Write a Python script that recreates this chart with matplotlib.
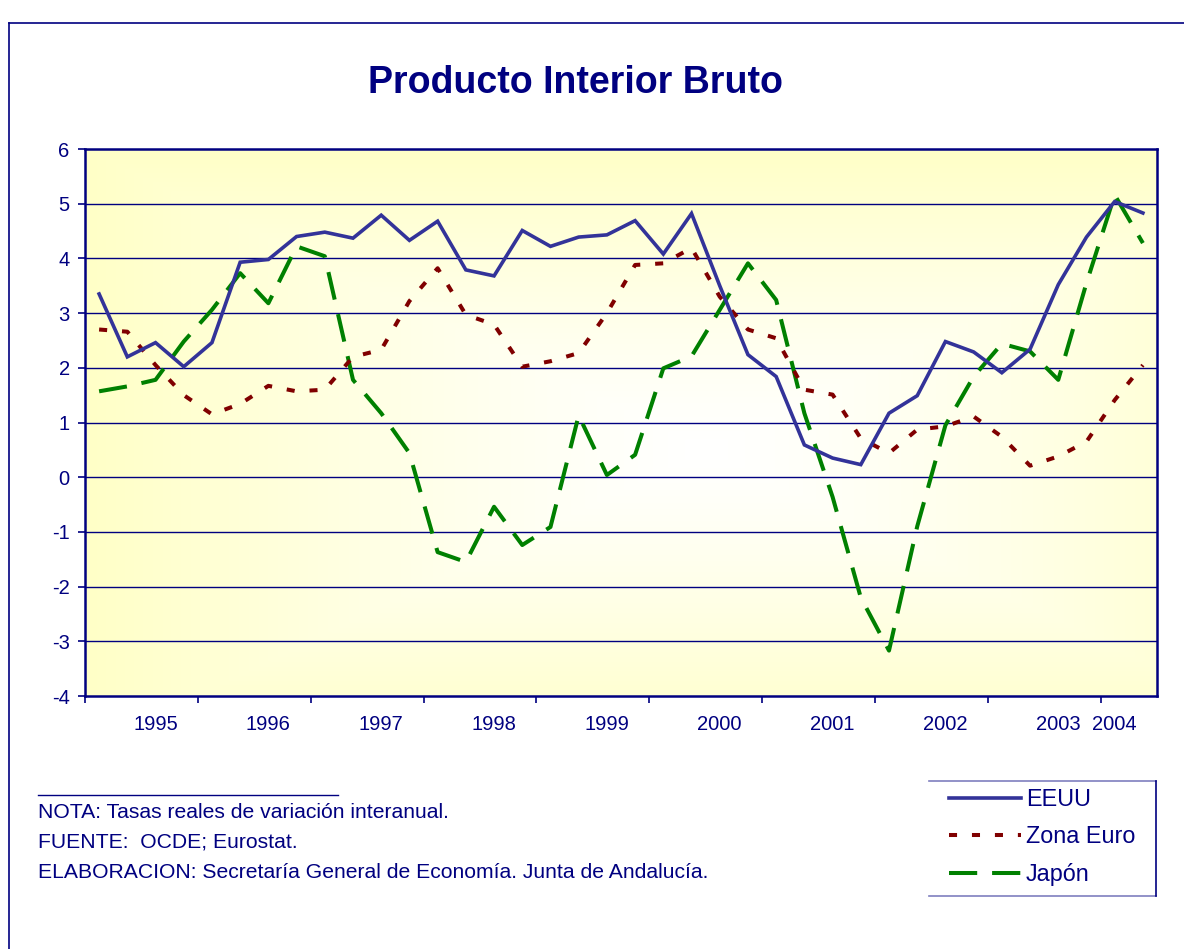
import numpy as np
import matplotlib
matplotlib.use("Agg")
import matplotlib.pyplot as plt
from matplotlib.lines import Line2D

plt.rcParams['font.family'] = ['Liberation Sans', 'DejaVu Sans']
plt.rcParams['axes.unicode_minus'] = False

NAVY = '#000080'

# quarterly data, 1995 Q1 .. 2004 Q2
eeuu = [3.35, 2.20, 2.46, 2.02, 2.46, 3.93, 3.98, 4.40, 4.48, 4.37, 4.79, 4.33,
        4.68, 3.79, 3.68, 4.51, 4.22, 4.39, 4.43, 4.69, 4.08, 4.82, 3.50, 2.24,
        1.84, 0.59, 0.35, 0.23, 1.17, 1.49, 2.48, 2.29, 1.91, 2.34, 3.52, 4.39,
        5.04, 4.83]
zona_euro = [2.70, 2.66, 2.05, 1.50, 1.15, 1.34, 1.67, 1.57, 1.60, 2.20, 2.33, 3.22,
             3.82, 2.97, 2.79, 2.02, 2.12, 2.27, 3.00, 3.88, 3.91, 4.19, 3.30, 2.70,
             2.54, 1.60, 1.51, 0.71, 0.44, 0.87, 0.93, 1.11, 0.74, 0.21, 0.38, 0.65,
             1.41, 2.05]
japon = [1.57, 1.66, 1.78, 2.48, 3.06, 3.73, 3.18, 4.22, 4.04, 1.78, 1.17, 0.44,
         -1.37, -1.55, -0.54, -1.24, -0.91, 1.13, 0.04, 0.41, 1.99, 2.21, 3.06, 3.91,
         3.24, 1.17, -0.36, -2.20, -3.17, -0.90, 0.95, 1.84, 2.44, 2.30, 1.78, 3.55,
         5.16, 4.28]
year_pos = [2, 6, 10, 14, 18, 22, 26, 30, 34, 36]
year_labels = ['1995', '1996', '1997', '1998', '1999', '2000', '2001', '2002', '2003', '2004']

n = len(eeuu)
x = np.arange(n)

fig = plt.figure(figsize=(11.84, 9.49), dpi=100)
ax = fig.add_axes([85/1184, 1-696/949, 1072/1184, 547/949])

# yellow-to-white "from centre" gradient
u, v = np.meshgrid(np.linspace(0, 1, 300), np.linspace(0, 1, 300))
t = np.clip(np.maximum(np.abs(u-0.58)/0.58, np.abs(v-0.45)/0.55), 0, 1) ** 1.2
yellow = np.array([1.0, 1.0, 0.78])
img = (1-t)[..., None]*np.array([1.0, 1.0, 1.0]) + t[..., None]*yellow
ax.imshow(img, extent=(0, 1, 0, 1), transform=ax.transAxes, aspect='auto',
          origin='lower', zorder=0)

for yv in range(-3, 6):
    ax.axhline(yv, color=NAVY, lw=1.0, zorder=1)

l1, = ax.plot(x, eeuu, color='#333399', lw=2.6, zorder=4, label='EEUU',
              solid_joinstyle='miter')
l2, = ax.plot(x, zona_euro, color='#800000', lw=2.9, zorder=3, label='Zona Euro',
              linestyle=(0, (2, 3.7)))
l3, = ax.plot(x, japon, color='#008000', lw=2.9, zorder=2, label='Japón',
              linestyle=(0, (7, 3.7)))

ax.set_xlim(-0.5, n-0.5)
ax.set_ylim(-4, 6)
ax.set_yticks(range(-4, 7))
ax.set_xticks(np.arange(-0.5, n, 4))
ax.set_xticklabels([])
ax.set_xticks(year_pos, minor=True)
ax.set_xticklabels(year_labels, minor=True)
ax.tick_params(axis='x', which='major', length=5, width=1.2, color=NAVY, direction='out')
ax.tick_params(axis='x', which='minor', length=0, pad=14, labelsize=14.5, labelcolor=NAVY)
ax.tick_params(axis='y', length=5, width=1.2, color=NAVY, labelsize=14.5,
               labelcolor=NAVY, pad=6)
for s in ax.spines.values():
    s.set_color(NAVY)
    s.set_linewidth(1.8)

fig.text(576/1184, 1-83/949, 'Producto Interior Bruto', ha='center', va='center',
         fontsize=27, fontweight='bold', color=NAVY)

# outer border
fig.add_artist(Line2D([9/1184, 9/1184], [0, 1-23/949], color=NAVY, lw=1.2))
fig.add_artist(Line2D([9/1184, 1], [1-23/949, 1-23/949], color=NAVY, lw=1.2))

# notes
fig.add_artist(Line2D([38/1184, 338/1184], [1-795/949, 1-795/949], color=NAVY, lw=1.0))
notes = ['NOTA: Tasas reales de variación interanual.',
         'FUENTE:  OCDE; Eurostat.',
         'ELABORACION: Secretaría General de Economía. Junta de Andalucía.']
for i, s in enumerate(notes):
    fig.text(38/1184, 1-(812+30.5*i)/949, s, ha='left', va='center',
             fontsize=15.2, color=NAVY)

# legend
leg = fig.legend([l1, l2, l3], ['EEUU', 'Zona Euro', 'Japón'], loc='upper left',
                 bbox_to_anchor=(942/1184, 1-781/949), frameon=False, fontsize=16.8,
                 handlelength=3.1, handletextpad=0.2, labelspacing=0.62,
                 borderaxespad=0, borderpad=0.3)
for t_ in leg.get_texts():
    t_.set_color(NAVY)
fig.add_artist(Line2D([929/1184, 1156/1184], [1-781/949, 1-781/949], color='#7f7fbf', lw=1.2))
fig.add_artist(Line2D([929/1184, 1156/1184], [1-896/949, 1-896/949], color='#7f7fbf', lw=1.2))
fig.add_artist(Line2D([1156/1184, 1156/1184], [1-781/949, 1-896/949], color=NAVY, lw=1.2))

plt.savefig('out.png', dpi=100)
